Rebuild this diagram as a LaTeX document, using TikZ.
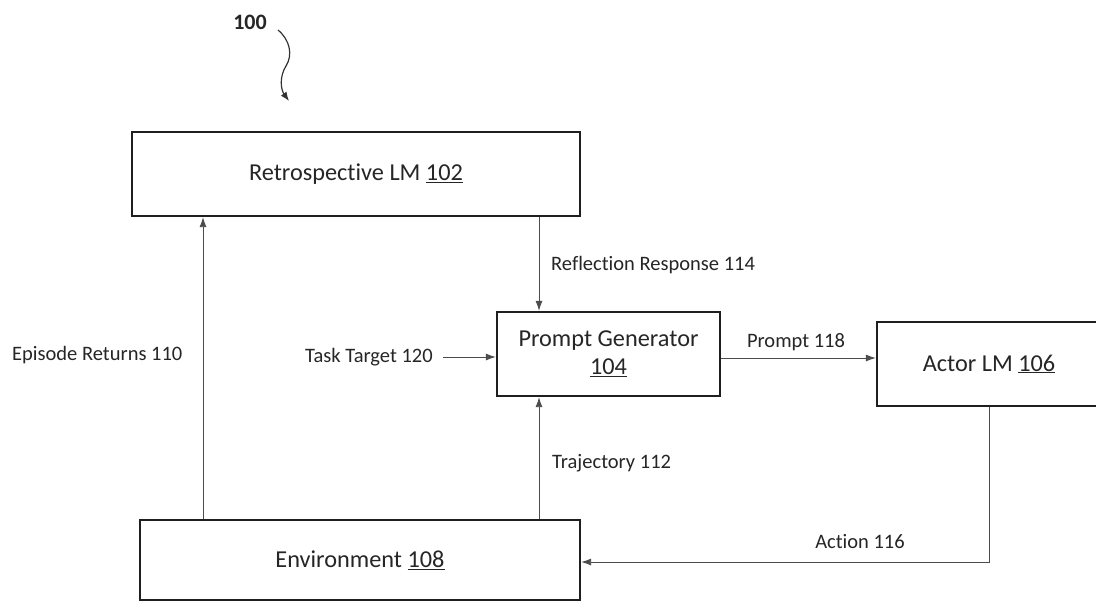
\documentclass[tikz,border=0pt]{standalone}
\usepackage{fontspec}
\setmainfont{Carlito}[Ligatures={NoCommon,NoRare}]
\usetikzlibrary{arrows.meta}
\tikzset{
  boxnode/.style={draw=black!88, line width=2.3pt, rectangle, inner sep=0pt, align=center, font=\fontsize{24.3}{28}\selectfont, text=black!85},
  conn/.style={draw=black!70, line width=0.9pt, -{Latex[length=10pt,width=7pt]}},
  lbl/.style={font=\fontsize{20.5}{24}\selectfont, text=black!85, inner sep=0pt},
}
\newcommand{\ul}[1]{\underline{#1}}
\begin{document}
\begin{tikzpicture}[x=1pt,y=-1pt]
\clip (0,0) rectangle (1096,602);
\fill[white] (0,0) rectangle (1096,602);

% boxes
\node[boxnode, minimum width=448pt, minimum height=84pt] (retro) at (356,174) {Retrospective LM \ul{102}};
\node[boxnode, minimum width=223pt, minimum height=84pt] (prompt) at (608.5,354) {Prompt Generator\\[0pt]\ul{104}};
\node[boxnode, minimum width=236pt, minimum height=84pt] (actor) at (995,364) {\hspace*{-12pt}Actor LM \ul{106}};
\node[boxnode, minimum width=440pt, minimum height=80pt] (env) at (360,560) {Environment \ul{108}};

% reference label and squiggle
\node[font=\bfseries\fontsize{22}{26}\selectfont, text=black!85, inner sep=0pt] (ref) at (250,22) {100};
\coordinate (sqa) at (278,30);
\coordinate (sqb) at (289,101);
\draw[draw=black!80, line width=1.2pt, -{Latex[length=9pt,width=7pt]}]
  (sqa) .. controls (290,40) and (293,55) .. (286,66)
        .. controls (279,77) and (281,90) .. (sqb);

% helper x positions
\coordinate (epx) at (203,0);
\coordinate (trx) at (539,0);
\coordinate (acx) at (989,0);

% labels
\node[lbl, anchor=west] (eplbl) at (12,355) {Episode Returns 110};
\node[lbl, anchor=west] (reflbl) at (551,265) {Reflection Response 114};
\node[lbl, anchor=west] (trlbl) at (552,463) {Trajectory 112};
\node[lbl] (prlbl) at (796,342) {Prompt 118};
\node[lbl] (aclbl) at (860,542) {Action 116};
\node[lbl, anchor=west] (task) at (305,357) {Task Target 120};

% connectors
\draw[conn] (env.north -| epx) -- (retro.south -| epx);
\draw[conn] (retro.south -| trx) -- (prompt.north -| trx);
\draw[conn] (env.north -| trx) -- (prompt.south -| trx);
\draw[conn] ([xshift=10pt]task.east) -- (prompt.west |- task.east);
\draw[conn] (prompt.east |- 0,358) -- (actor.west |- 0,358);
\draw[conn] (actor.south -| acx) |- (env.east |- 0,562);
\end{tikzpicture}
\end{document}
